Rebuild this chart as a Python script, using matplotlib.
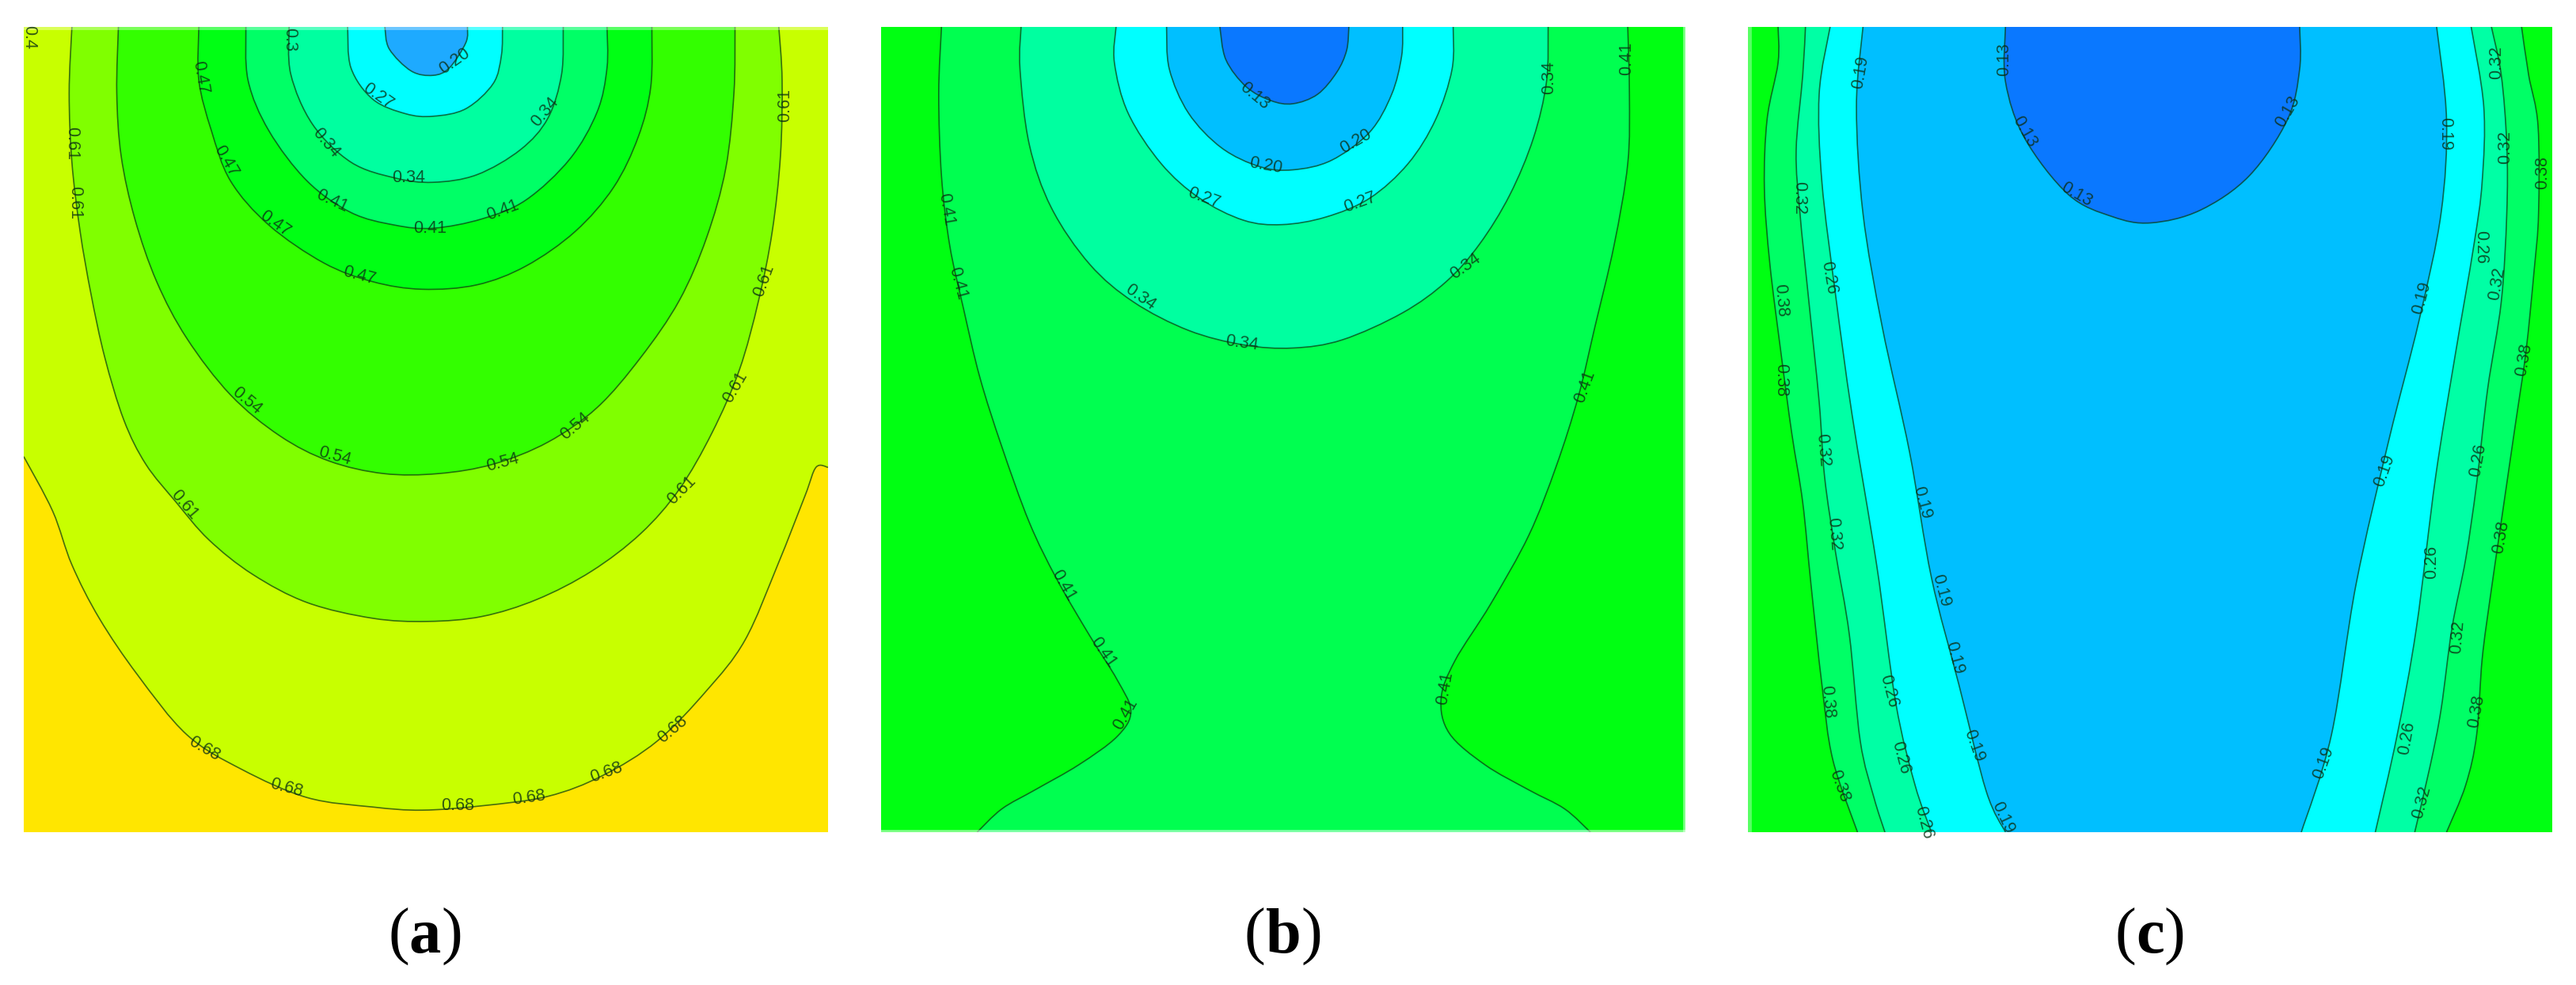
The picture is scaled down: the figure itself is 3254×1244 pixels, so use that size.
#!/usr/bin/env python3
"""Three contour maps (a), (b), (c) with labelled iso-lines, digitised from the figure."""

import matplotlib
matplotlib.use("Agg")
import matplotlib.pyplot as plt
from matplotlib.patches import PathPatch
from matplotlib.path import Path

# ---- panel (a): iso-lines, lowest value last, in digitised image units
A_LIMITS = (42, 1512, 1325, 45)
A_068 = [(42, 728), (95, 815), (130, 900), (180, 985), (250, 1075), (340, 1170), (440, 1225), (560, 1270),
         (680, 1285), (770, 1290), (880, 1283), (1000, 1268), (1100, 1235), (1200, 1180), (1290, 1100),
         (1360, 1020), (1420, 900), (1470, 790), (1490, 745), (1512, 745)]
A_061 = [(130, 45), (125, 150), (130, 260), (145, 370), (165, 470), (190, 570), (225, 670), (265, 740), (320, 800),
         (380, 860), (460, 915), (560, 960), (680, 985), (780, 990), (880, 982), (980, 955), (1080, 910),
         (1170, 850), (1240, 780), (1300, 690), (1350, 590), (1385, 480), (1410, 370), (1425, 250), (1428, 130),
         (1422, 45)]
A_054 = [(215, 45), (212, 150), (220, 250), (245, 350), (285, 450), (340, 540), (420, 630), (510, 695), (600, 735),
         (700, 755), (800, 755), (900, 740), (1000, 705), (1090, 650), (1170, 570), (1240, 480), (1290, 380),
         (1325, 270), (1340, 150), (1342, 45)]
A_047 = [(362, 45), (362, 130), (385, 210), (420, 290), (490, 360), (590, 420), (680, 450), (770, 462), (870, 455),
         (960, 425), (1050, 370), (1120, 300), (1165, 220), (1188, 140), (1190, 45)]
A_041 = [(448, 45), (452, 130), (490, 210), (560, 290), (640, 340), (720, 360), (790, 365), (880, 350), (960, 320),
         (1040, 255), (1090, 180), (1108, 110), (1108, 45)]
A_034 = [(527, 45), (530, 120), (570, 200), (640, 260), (720, 285), (790, 292), (870, 280), (950, 240), (1000, 190),
         (1025, 120), (1028, 45)]
A_027 = [(634, 45), (640, 110), (680, 160), (740, 183), (790, 187), (850, 175), (900, 135), (915, 90), (917, 45)]
A_020 = [(702, 45), (710, 80), (750, 115), (790, 122), (820, 110), (850, 70), (853, 45)]
A_LINES = [A_061, A_054, A_047, A_041, A_034, A_027, A_020]
A_BACKGROUND = "#ffe600"
A_COLORS = ["#c8ff00", "#80ff00", "#33ff00", "#00ff14", "#00ff66", "#00ffa0", "#00ffff", "#1eaaff"]
A_LABELS = [("0.20", 830, 100, 35), ("0.27", 690, 155, -35), ("0.34", 995, 180, 50), ("0.34", 595, 230, -50),
            ("0.34", 745, 285, 0), ("0.41", 605, 322, -25), ("0.41", 785, 365, 0), ("0.41", 918, 337, 20),
            ("0.47", 365, 125, -80), ("0.47", 412, 258, -60), ("0.47", 502, 358, -35), ("0.47", 655, 440, -15),
            ("0.54", 450, 640, -40), ("0.54", 610, 727, -15), ("0.54", 918, 737, 15), ("0.54", 1050, 680, 40),
            ("0.61", 130, 230, -90), ("0.61", 135, 325, -90), ("0.61", 1433, 170, 90), ("0.61", 1395, 448, 70),
            ("0.61", 1342, 618, 60), ("0.61", 1245, 782, 45), ("0.61", 335, 805, -50), ("0.68", 372, 1193, -30),
            ("0.68", 522, 1255, -15), ("0.68", 835, 1283, 0), ("0.68", 965, 1270, 8), ("0.68", 1107, 1230, 20),
            ("0.68", 1228, 1162, 40), ("0.4", 52, 62, -90), ("0.3", 527, 65, -90)]

# ---- panel (b)
B_LIMITS = (40, 1505, 1322, 43)
B_041_LEFT = [(150, 43), (145, 150), (150, 280), (165, 390), (190, 490), (220, 600), (260, 710), (310, 830), (360, 920),
              (420, 1010), (470, 1080), (495, 1130), (470, 1170), (400, 1215), (320, 1255), (260, 1285), (215, 1322)]
B_041_RIGHT = [(1400, 43), (1403, 150), (1400, 260), (1375, 390), (1340, 520), (1310, 630), (1270, 740), (1220, 850),
               (1150, 960), (1085, 1050), (1060, 1110), (1075, 1165), (1140, 1215), (1220, 1255), (1285, 1285),
               (1332, 1322)]
B_034 = [(295, 43), (293, 110), (310, 230), (350, 330), (420, 420), (500, 480), (600, 525), (700, 548), (790, 553),
         (880, 540), (990, 497), (1070, 447), (1130, 388), (1185, 310), (1228, 220), (1252, 130), (1255, 43)]
B_027 = [(468, 43), (465, 100), (490, 180), (550, 260), (620, 315), (700, 350), (770, 357), (850, 345), (930, 315),
         (1000, 260), (1050, 190), (1080, 110), (1082, 43)]
B_020 = [(560, 43), (565, 110), (600, 180), (660, 235), (730, 265), (790, 270), (860, 255), (930, 210), (970, 150),
         (988, 90), (990, 43)]
B_013 = [(657, 43), (668, 95), (705, 138), (750, 160), (790, 165), (835, 150), (870, 115), (888, 80), (892, 43)]
B_LINES = [B_034, B_027, B_020, B_013]
B_BACKGROUND = "#00ff12"
B_COLORS = ["#00ff50", "#00ffa0", "#00ffff", "#00bfff", "#0a78ff"]
B_LABELS = [("0.13", 720, 153, -40), ("0.20", 740, 263, -10), ("0.20", 905, 225, 30), ("0.27", 628, 315, -20),
            ("0.27", 913, 322, 20), ("0.34", 512, 472, -35), ("0.34", 697, 545, -8), ("0.34", 1105, 423, 35),
            ("0.41", 158, 333, -80), ("0.41", 180, 450, -75), ("0.41", 372, 930, -60), ("0.41", 445, 1037, -55),
            ("0.41", 485, 1135, 60), ("0.41", 1067, 1093, 80), ("0.41", 1322, 615, 70), ("0.34", 1257, 123, 90),
            ("0.41", 1398, 93, 90)]

# ---- panel (c)
C_LIMITS = (55, 1523, 1325, 43)
C_038_LEFT = [(110, 43), (110, 100), (90, 190), (85, 300), (95, 420), (115, 560), (135, 690), (155, 800), (170, 930),
              (190, 1090), (210, 1210), (255, 1325)]
C_038_RIGHT = [(1467, 43), (1480, 120), (1497, 200), (1498, 340), (1490, 430), (1475, 560), (1455, 680), (1430, 830),
               (1410, 950), (1395, 1050), (1385, 1170), (1365, 1250), (1330, 1325)]
C_032_LEFT = [(160, 43), (155, 120), (143, 240), (150, 340), (165, 470), (185, 640), (195, 760), (215, 880), (240, 1010),
              (260, 1180), (285, 1270), (305, 1325)]
C_032_RIGHT = [(1412, 43), (1430, 120), (1440, 230), (1440, 340), (1430, 480), (1405, 620), (1385, 770), (1365, 890),
               (1340, 1000), (1320, 1130), (1300, 1220), (1272, 1325)]
C_026_LEFT = [(205, 43), (185, 150), (190, 290), (215, 470), (245, 660), (290, 900), (325, 1120), (360, 1250), (390, 1325)]
C_026_RIGHT = [(1375, 43), (1398, 170), (1395, 290), (1380, 390), (1345, 570), (1310, 760), (1275, 1000), (1240, 1170),
               (1200, 1325)]
C_019_LEFT = [(265, 43), (253, 170), (265, 340), (300, 520), (350, 720), (390, 920), (440, 1090), (490, 1260), (525, 1325)]
C_019_RIGHT = [(1312, 43), (1330, 190), (1320, 340), (1280, 510), (1225, 700), (1165, 930), (1120, 1170), (1065, 1325)]
C_013 = [(525, 43), (525, 130), (560, 220), (640, 310), (720, 345), (790, 355), (880, 335), (970, 280), (1040, 190),
         (1062, 110), (1062, 43)]
C_BACKGROUND = "#00ff12"
C_COLORS = ["#00ff66", "#00ffa5", "#00ffff", "#00bfff", "#0a78ff"]
C_LABELS = [("0.13", 523, 95, 90), ("0.13", 560, 210, -60), ("0.13", 655, 310, -30), ("0.13", 1040, 178, 60),
            ("0.19", 260, 115, 80), ("0.19", 1328, 213, -90), ("0.19", 1285, 475, 75), ("0.19", 1217, 750, 70),
            ("0.19", 372, 800, -75), ("0.19", 407, 940, -75), ("0.19", 432, 1048, -75), ("0.19", 468, 1187, -70),
            ("0.19", 520, 1302, -65), ("0.19", 1105, 1215, 70), ("0.26", 203, 442, -80), ("0.32", 148, 315, -90),
            ("0.38", 115, 478, -85), ("0.38", 115, 605, -90), ("0.32", 192, 717, -85), ("0.32", 212, 850, -85),
            ("0.26", 312, 1100, -75), ("0.26", 333, 1207, -75), ("0.26", 375, 1310, -75), ("0.38", 200, 1117, -85),
            ("0.38", 222, 1252, -70), ("0.32", 1422, 100, 90), ("0.32", 1437, 235, 90), ("0.38", 1505, 275, 90),
            ("0.26", 1392, 393, -90), ("0.32", 1423, 452, 80), ("0.38", 1472, 573, 80), ("0.26", 1388, 733, 80),
            ("0.38", 1430, 855, 80), ("0.26", 1303, 895, 90), ("0.32", 1350, 1015, 85), ("0.38", 1385, 1133, 80),
            ("0.26", 1257, 1175, 80), ("0.32", 1285, 1278, 75)]

PANEL_LETTERS = ["a", "b", "c"]

FIG_W, FIG_H = 3255, 1244
LINE_COLOR = "#0b3a10"
LABEL_COLOR = "#0c3014"


def make_axes(left, right, limits):
    top, bottom = 34, 1051
    ax = fig.add_axes([left / FIG_W, 1 - bottom / FIG_H, (right - left) / FIG_W, (bottom - top) / FIG_H])
    ax.set_xlim(limits[0], limits[1])
    ax.set_ylim(limits[2], limits[3])
    ax.axis("off")
    return ax


def curve_path(*curves, close=False):
    verts, codes = [], []
    for pts in curves:
        verts.append(pts[0])
        codes.append(Path.LINETO if verts[:-1] else Path.MOVETO)
        for i in range(len(pts) - 1):
            p0, p1 = pts[max(i - 1, 0)], pts[i]
            p2, p3 = pts[i + 1], pts[min(i + 2, len(pts) - 1)]
            verts.append((p1[0] + (p2[0] - p0[0]) / 6, p1[1] + (p2[1] - p0[1]) / 6))
            verts.append((p2[0] - (p3[0] - p1[0]) / 6, p2[1] - (p3[1] - p1[1]) / 6))
            verts.append(p2)
            codes += [Path.CURVE4, Path.CURVE4, Path.CURVE4]
    if close:
        verts.append(verts[0])
        codes.append(Path.CLOSEPOLY)
    return Path(verts, codes)


def fill_region(ax, color, *curves):
    ax.add_patch(PathPatch(curve_path(*curves, close=True), facecolor=color, edgecolor="none", lw=0))


def draw_line(ax, pts):
    ax.add_patch(PathPatch(curve_path(pts), facecolor="none", edgecolor=LINE_COLOR, lw=1.2, alpha=0.72))


def draw_labels(ax, labels):
    for text, x, y, rot in labels:
        ax.text(x, y, text, rotation=rot, ha="center", va="center", rotation_mode="anchor",
                fontsize=15.5, color=LABEL_COLOR, alpha=0.8, family="Liberation Sans")


def caption(center_x, letter):
    # regular parentheses round a bold letter, spaced by their measured widths
    y = 1 - 1203 / FIG_H
    renderer = fig.canvas.get_renderer()
    parts = [fig.text(0, y, "(", family="Liberation Serif", fontsize=58, va="baseline"),
             fig.text(0, y, letter, family="Liberation Serif", fontsize=58, fontweight="bold", va="baseline"),
             fig.text(0, y, ")", family="Liberation Serif", fontsize=58, va="baseline")]
    widths = [p.get_window_extent(renderer).width for p in parts]
    x = center_x - sum(widths) / 2
    for part, width in zip(parts, widths):
        part.set_x(x / FIG_W)
        x += width


fig = plt.figure(figsize=(FIG_W / 100, FIG_H / 100), dpi=100, facecolor="white")

# panel (a): everything above the 0.68 line is closed along the top edge
ax_a = make_axes(30, 1046, A_LIMITS)
ax_a.fill_between(A_LIMITS[:2], A_LIMITS[2], A_LIMITS[3], color=A_BACKGROUND, lw=0)
fill_region(ax_a, A_COLORS[0], A_068, [(A_LIMITS[1], A_LIMITS[3]), (A_LIMITS[0], A_LIMITS[3])])
draw_line(ax_a, A_068)
for pts, color in zip(A_LINES, A_COLORS[1:]):
    fill_region(ax_a, color, pts)
    draw_line(ax_a, pts)
draw_labels(ax_a, A_LABELS)
ax_a.axhline(A_LIMITS[3], color="white", lw=5, alpha=0.35)

# panel (b)
ax_b = make_axes(1113, 2129, B_LIMITS)
ax_b.fill_between(B_LIMITS[:2], B_LIMITS[2], B_LIMITS[3], color=B_BACKGROUND, lw=0)
fill_region(ax_b, B_COLORS[0], B_041_LEFT, B_041_RIGHT[::-1])
draw_line(ax_b, B_041_LEFT)
draw_line(ax_b, B_041_RIGHT)
for pts, color in zip(B_LINES, B_COLORS[1:]):
    fill_region(ax_b, color, pts)
    draw_line(ax_b, pts)
draw_labels(ax_b, B_LABELS)
ax_b.axvline(B_LIMITS[1], color="white", lw=4, alpha=0.5)
ax_b.axhline(B_LIMITS[2], color="white", lw=4, alpha=0.5)

# panel (c)
ax_c = make_axes(2208, 3224, C_LIMITS)
ax_c.fill_between(C_LIMITS[:2], C_LIMITS[2], C_LIMITS[3], color=C_BACKGROUND, lw=0)
pairs = [(C_038_LEFT, C_038_RIGHT), (C_032_LEFT, C_032_RIGHT), (C_026_LEFT, C_026_RIGHT), (C_019_LEFT, C_019_RIGHT)]
for (lhs, rhs), color in zip(pairs, C_COLORS):
    fill_region(ax_c, color, lhs, rhs[::-1])
    draw_line(ax_c, lhs)
    draw_line(ax_c, rhs)
fill_region(ax_c, C_COLORS[4], C_013)
draw_line(ax_c, C_013)
draw_labels(ax_c, C_LABELS)
ax_c.axvline(C_LIMITS[0], color="white", lw=7, alpha=0.35)

caption(537, PANEL_LETTERS[0])
caption(1621, PANEL_LETTERS[1])
caption(2716, PANEL_LETTERS[2])

fig.savefig("out.png", dpi=100, facecolor="white")
